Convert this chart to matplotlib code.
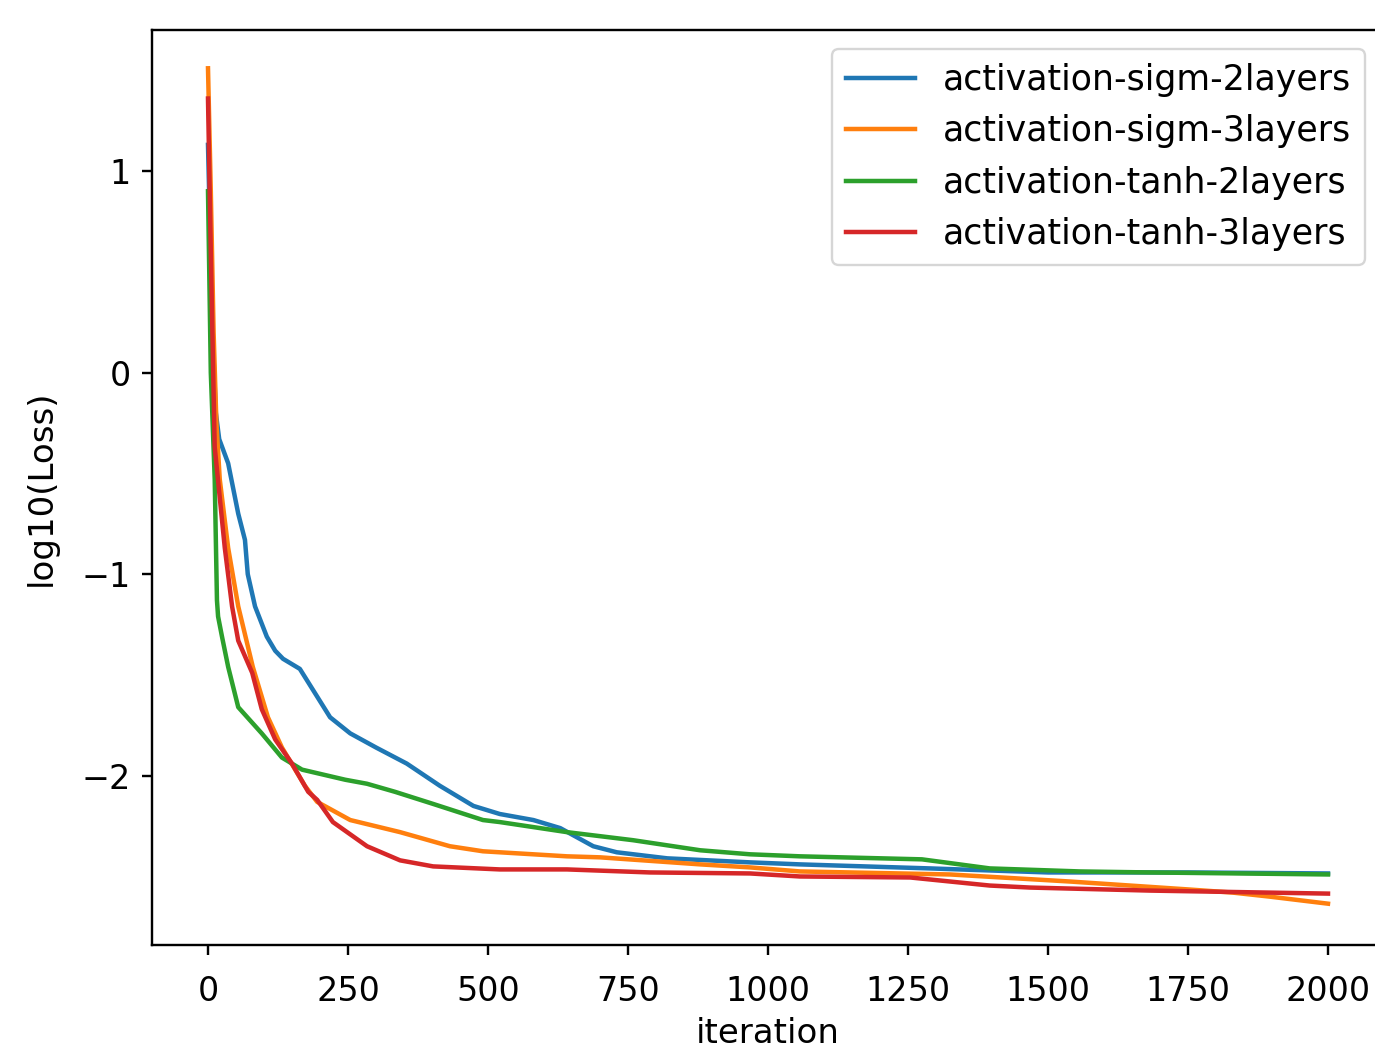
import matplotlib
matplotlib.use("Agg")
import matplotlib.pyplot as plt

# ---- data ----
sigm2_x = [0, 8, 14, 20, 36, 54, 66, 71, 84, 105, 120, 134, 164, 191, 218, 254, 300, 355,
           414, 474, 521, 581, 629, 688, 730, 820, 968, 1057, 1289, 1500, 1750, 2000]
sigm2_y = [1.13, 0.2, -0.2, -0.33, -0.45, -0.70, -0.83, -1.0, -1.16, -1.31, -1.38, -1.42,
           -1.47, -1.59, -1.71, -1.79, -1.86, -1.94, -2.05, -2.15, -2.19, -2.22, -2.26,
           -2.35, -2.38, -2.41, -2.43, -2.44, -2.46, -2.48, -2.48, -2.485]

sigm3_x = [0, 5, 10, 15, 21, 36, 54, 80, 107, 132, 173, 195, 254, 343, 432, 491, 641, 700,
           879, 968, 1057, 1325, 1539, 1754, 1830, 1896, 2000]
sigm3_y = [1.51, 0.9, 0.2, -0.25, -0.53, -0.87, -1.16, -1.46, -1.71, -1.86, -2.05, -2.13,
           -2.22, -2.28, -2.35, -2.375, -2.40, -2.405, -2.44, -2.455, -2.475, -2.49, -2.525,
           -2.565, -2.58, -2.60, -2.635]

tanh2_x = [0, 5, 12, 16, 18, 25, 36, 54, 96, 132, 168, 245, 284, 334, 402, 491, 521, 641,
           759, 879, 968, 1057, 1275, 1396, 1557, 1682, 2000]
tanh2_y = [0.9, 0.0, -0.53, -1.13, -1.21, -1.31, -1.46, -1.66, -1.79, -1.91, -1.97, -2.02,
           -2.04, -2.08, -2.14, -2.22, -2.23, -2.28, -2.32, -2.37, -2.39, -2.40, -2.415,
           -2.46, -2.475, -2.48, -2.49]

tanh3_x = [0, 5, 10, 12, 30, 43, 54, 79, 96, 120, 150, 179, 195, 223, 284, 343, 402, 521,
           641, 789, 968, 1057, 1254, 1396, 1468, 1682, 2000]
tanh3_y = [1.36, 0.6, -0.1, -0.37, -0.87, -1.16, -1.33, -1.49, -1.67, -1.82, -1.94, -2.08,
           -2.12, -2.23, -2.35, -2.42, -2.45, -2.465, -2.465, -2.48, -2.485, -2.50, -2.505,
           -2.545, -2.555, -2.57, -2.585]

labels = ["activation-sigm-2layers", "activation-sigm-3layers",
          "activation-tanh-2layers", "activation-tanh-3layers"]
xlabel = "iteration"
ylabel = "log10(Loss)"
xticks = [0, 250, 500, 750, 1000, 1250, 1500, 1750, 2000]
yticks = [-2, -1, 0, 1]

# ---- plot ----
S = 2.15
plt.rcParams["font.family"] = ["DejaVu Sans"]
plt.rcParams["font.size"] = 24
fig = plt.figure(figsize=(13.75, 10.51), dpi=100)
ax = fig.add_axes([152 / 1375, 106 / 1051, (1384 - 152) / 1375, (945 - 30) / 1051])

series = [(sigm2_x, sigm2_y), (sigm3_x, sigm3_y), (tanh2_x, tanh2_y), (tanh3_x, tanh3_y)]
colors = ["#1f77b4", "#ff7f0e", "#2ca02c", "#d62728"]
for (xs, ys), lab, c in zip(series, labels, colors):
    ax.plot(xs, ys, color=c, lw=1.5 * S, label=lab)

ax.set_xlim(-100, 2100)
ax.set_ylim(-2.84, 1.70)
ax.set_xticks(xticks)
ax.set_yticks(yticks)
ax.tick_params(axis="x", length=3.5 * S, width=0.8 * S, pad=6.5 * S, labelsize=24)
ax.tick_params(axis="y", length=3.5 * S, width=0.8 * S, pad=3.5 * S, labelsize=24)
for sp in ax.spines.values():
    sp.set_linewidth(0.8 * S)
ax.set_xlabel(xlabel, fontsize=24.5, labelpad=3 * S)
ax.set_ylabel(ylabel, fontsize=24.5, labelpad=8 * S)
leg = ax.legend(loc="upper right", fontsize=25, handlelength=2.0, borderaxespad=0.55)
leg.get_frame().set_linewidth(0.8 * S)

fig.savefig("out.png", dpi=100)
